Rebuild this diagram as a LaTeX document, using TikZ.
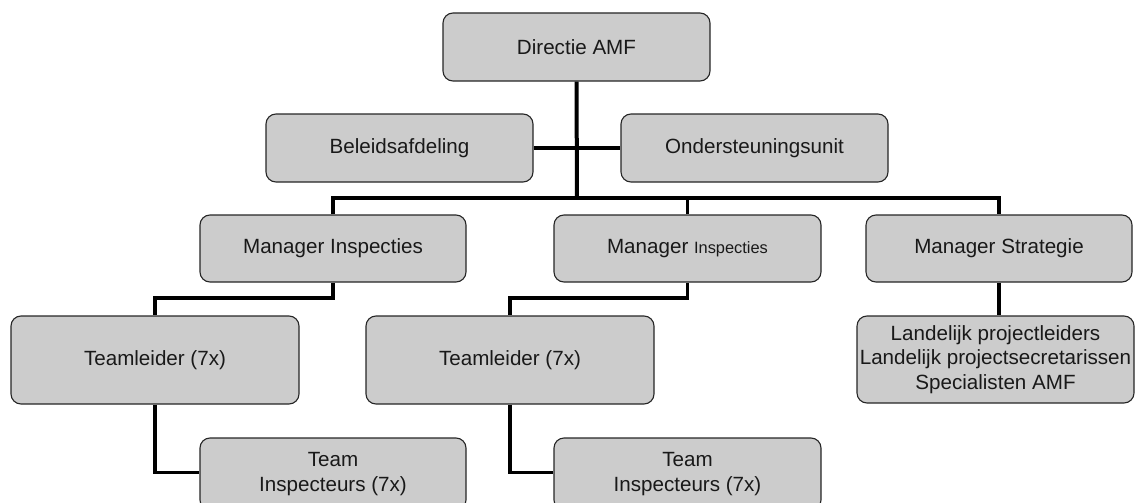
\documentclass[tikz,border=0pt]{standalone}
\usepackage{fontspec}
\setmainfont{Liberation Sans}
\definecolor{boxgray}{HTML}{CCCCCC}
\definecolor{edgegray}{HTML}{262626}
\begin{document}
\begin{tikzpicture}[x=1pt,y=-1pt,
  box/.style={draw=edgegray, line width=1.1pt, fill=boxgray, rounded corners=10pt,
    align=center, inner sep=0pt, text=black!90,
    font=\fontsize{20.6}{24.5}\selectfont},
  link/.style={line width=3.3pt, line join=miter, draw=black},
  spine/.style={line width=4pt, line join=miter, draw=black}]
\useasboundingbox (0,0) rectangle (1135,503);

% nodes
\node[box, minimum width=267pt, minimum height=68pt] (dir) at (576.5,47) {Directie AMF};
\node[box, minimum width=267pt, minimum height=68pt] (bel) at (399.5,148) {Beleidsafdeling};
\node[box, minimum width=267pt, minimum height=68pt] (ond) at (754.5,148) {Ondersteuningsunit};

\node[box, minimum width=266pt, minimum height=67pt] (m1) at (333,248.5) {Manager Inspecties};
\node[box, minimum width=267pt, minimum height=67pt] (m2) at (687.5,248.5) {Manager {\fontsize{16.4}{19}\selectfont Inspecties}};
\node[box, minimum width=266pt, minimum height=67pt] (ms) at (999,248.5) {Manager Strategie};

\node[box, minimum width=288pt, minimum height=88pt] (t1) at (155,360) {Teamleider (7x)};
\node[box, minimum width=288pt, minimum height=88pt] (t2) at (510,360) {Teamleider (7x)};
\node[box, minimum width=277pt, minimum height=87pt] (land) at (995.5,359.5)
  {Landelijk projectleiders\\Landelijk projectsecretarissen\\Specialisten AMF};

\node[box, minimum width=266pt, minimum height=72pt] (ti1) at (333,474) {Team\\Inspecteurs (7x)};
\node[box, minimum width=267pt, minimum height=72pt] (ti2) at (687.5,474) {Team\\Inspecteurs (7x)};

% helper coordinates
\coordinate (bus) at (577,198);
\coordinate (sub) at (0,298);

% connectors
\draw[spine] (dir.south) -- (bus);
\draw[link] (bel.east) -- (ond.west);
\draw[link] (m1.north) |- (ms.north |- bus) -- (ms.north);
\draw[link] (m2.north) -- (m2.north |- bus);

\draw[link] (m1.south) -- (m1.south |- sub) -| (t1.north);
\draw[link] (m2.south) -- (m2.south |- sub) -| (t2.north);
\draw[link] (ms.south) -- (ms.south |- land.north);

\draw[link] (t1.south) |- ([yshift=1.5pt]ti1.west);
\draw[link] (t2.south) |- ([yshift=1.5pt]ti2.west);
\end{tikzpicture}
\end{document}
